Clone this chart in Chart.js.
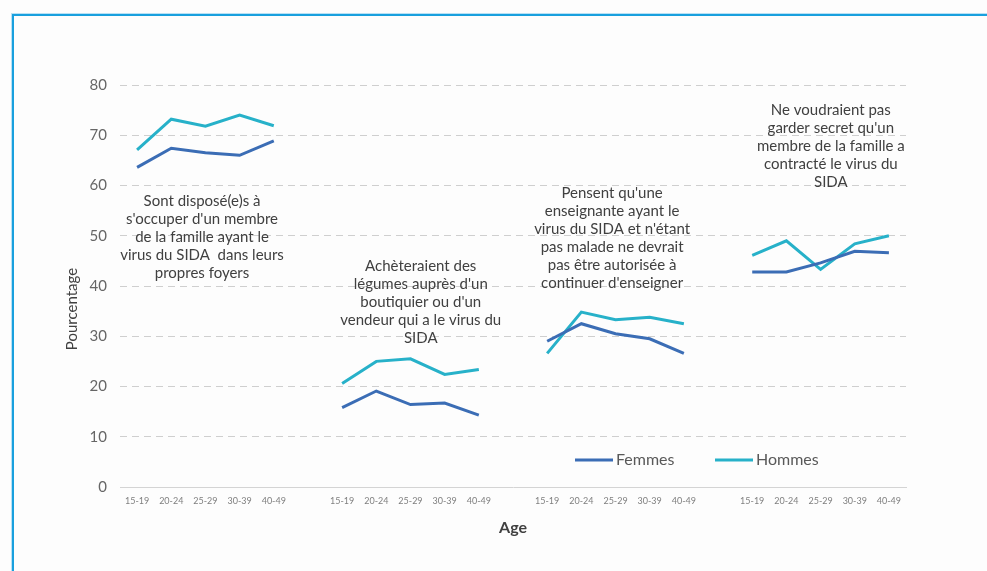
<!DOCTYPE html>
<html>
<head>
<meta charset="utf-8">
<script src="https://cdn.jsdelivr.net/npm/chart.js@4"></script>
<style>
    html, body { margin: 0; padding: 0; background: #fdfdfd; overflow: hidden; }
    #wrap { position: relative; width: 987px; height: 571px; }
    #frame {
        position: absolute; left: 12px; top: 14px; width: 1200px; height: 800px;
        border: 2px solid #19a0de; box-shadow: -1px -1px 0 #b8e1f5; pointer-events: none;
    }
    canvas { position: absolute; left: 0; top: 0; }
</style>
</head>
<body>
<div id="wrap">
    <canvas id="ageChart" width="987" height="571"></canvas>
    <div id="frame"></div>
</div>
<script>
//################### Data ###################
const ageGroups = ['15-19', '20-24', '25-29', '30-39', '40-49'];

const femmesSoins = [63.6, 67.4, 66.5, 66.0, 68.9];
const hommesSoins = [67.1, 73.2, 71.8, 74.0, 71.9];

const femmesLegumes = [15.8, 19.1, 16.4, 16.7, 14.3];
const hommesLegumes = [20.6, 25.0, 25.5, 22.4, 23.4];

const femmesEnseignante = [29.0, 32.5, 30.5, 29.5, 26.6];
const hommesEnseignante = [26.6, 34.8, 33.3, 33.8, 32.5];

const femmesSecret = [42.8, 42.8, 44.6, 46.9, 46.6];
const hommesSecret = [46.1, 49.0, 43.3, 48.4, 50.0];

const yTicks = [0, 10, 20, 30, 40, 50, 60, 70, 80];

const seriesNames = ['Femmes', 'Hommes'];
const seriesColors = ['#3b6db5', '#27b1c9'];

// group captions: lines, anchor category index, anchor value of the first line
const groupCaptions = [
    { lines: ['Sont disposé(e)s à', "s'occuper d'un membre", 'de la famille ayant le', 'virus du SIDA  dans leurs', 'propres foyers'], x: 1.9, y: 56.9 },
    { lines: ['Achèteraient des', "légumes auprès d'un", "boutiquier ou d'un", 'vendeur qui a le virus du', 'SIDA'], x: 8.3, y: 44.0 },
    { lines: ["Pensent qu'une", 'enseignante ayant le', "virus du SIDA et n'étant", 'pas malade ne devrait', 'pas être autorisée à', "continuer d'enseigner"], x: 13.9, y: 58.5 },
    { lines: ['Ne voudraient pas', "garder secret qu'un", 'membre de la famille a', 'contracté le virus du', 'SIDA'], x: 20.3, y: 75.0 }
];

// join the four groups with an empty slot between them, so lines break
function joinGroups(groups) {
    let out = [];
    groups.forEach((g, i) => {
        out = out.concat(g);
        if (i < groups.length - 1) out.push(null);
    });
    return out;
}

const labels = joinGroups([ageGroups, ageGroups, ageGroups, ageGroups]).map(l => l === null ? '' : l);
const femmesData = joinGroups([femmesSoins, femmesLegumes, femmesEnseignante, femmesSecret]);
const hommesData = joinGroups([hommesSoins, hommesLegumes, hommesEnseignante, hommesSecret]);

//################### Captions, legend, y title ###################
const overlayPlugin = {
    id: 'overlay',
    afterDatasetsDraw(chart) {
        const ctx = chart.ctx;
        const xs = chart.scales.x;
        const ys = chart.scales.y;
        const area = chart.chartArea;
        ctx.save();

        // captions over each group
        ctx.fillStyle = '#404040';
        ctx.font = '15px Lato, "Open Sans", sans-serif';
        ctx.textAlign = 'center';
        ctx.textBaseline = 'middle';
        groupCaptions.forEach(c => {
            const i0 = Math.floor(c.x);
            const cx = xs.getPixelForValue(i0) + (c.x - i0) * (xs.getPixelForValue(i0 + 1) - xs.getPixelForValue(i0));
            const cy = ys.getPixelForValue(c.y);
            c.lines.forEach((line, k) => ctx.fillText(line, cx, cy + k * 18));
        });

        // legend inside the plot
        ctx.font = '16px Lato, "Open Sans", sans-serif';
        ctx.textAlign = 'left';
        ctx.fillStyle = '#595959';
        let lx = area.left + 455;
        const ly = area.bottom - 27;
        chart.data.datasets.forEach((ds, i) => {
            ctx.strokeStyle = ds.borderColor;
            ctx.lineWidth = 3;
            ctx.beginPath();
            ctx.moveTo(lx, ly);
            ctx.lineTo(lx + 38, ly);
            ctx.stroke();
            ctx.fillText(ds.label, lx + 41, ly);
            lx += 140;
        });

        // y axis title
        ctx.translate(72, 309);
        ctx.rotate(-Math.PI / 2);
        ctx.textAlign = 'center';
        ctx.fillStyle = '#404040';
        ctx.font = '15px Lato, "Open Sans", sans-serif';
        ctx.fillText('Pourcentage', 0, 0);
        ctx.restore();
    }
};

//################### Line chart ###################
function createAgeChart() {
    const ctx = document.getElementById('ageChart').getContext('2d');
    new Chart(ctx, {
        type: 'line',
        data: {
            labels: labels,
            datasets: [{
                label: seriesNames[0],
                data: femmesData,
                borderColor: seriesColors[0],
                backgroundColor: seriesColors[0],
                borderWidth: 3,
                pointRadius: 0,
                tension: 0,
                spanGaps: false
            }, {
                label: seriesNames[1],
                data: hommesData,
                borderColor: seriesColors[1],
                backgroundColor: seriesColors[1],
                borderWidth: 3,
                pointRadius: 0,
                tension: 0,
                spanGaps: false
            }]
        },
        options: {
            responsive: false,
            animation: false,
            layout: {
                padding: { top: 85, right: 81, bottom: 30, left: 0 }
            },
            plugins: {
                legend: { display: false },
                tooltip: { enabled: false }
            },
            scales: {
                x: {
                    offset: true,
                    grid: { display: false, drawTicks: false },
                    border: { display: true, color: '#d4d4d4', width: 1, dash: [1, 2] },
                    ticks: {
                        color: '#7f7f7f',
                        font: { size: 9, family: 'Lato, "Open Sans", sans-serif' },
                        padding: 9,
                        maxRotation: 0,
                        autoSkip: false
                    },
                    title: {
                        display: true,
                        text: 'Age',
                        color: '#404040',
                        font: { size: 16, weight: 'bold', family: 'Lato, "Open Sans", sans-serif' },
                        padding: { top: 4, bottom: 4 }
                    },
                    afterFit: (s) => { s.height = 54; }
                },
                y: {
                    min: 0,
                    max: 80,
                    afterBuildTicks: (s) => { s.ticks = yTicks.map(v => ({ value: v })); },
                    grid: {
                        drawTicks: false,
                        color: (c) => c.tick && c.tick.value === 0 ? 'rgba(0,0,0,0)' : '#cfcfcf',
                        lineWidth: 1
                    },
                    border: { display: false, dash: [7, 5] },
                    ticks: {
                        color: '#666666',
                        font: { size: 15, family: 'Lato, "Open Sans", sans-serif' },
                        padding: 13
                    },
                    afterFit: (s) => { s.width = 120; }
                }
            }
        },
        plugins: [overlayPlugin]
    });
}

window.onload = () => createAgeChart();
</script>
</body>
</html>
